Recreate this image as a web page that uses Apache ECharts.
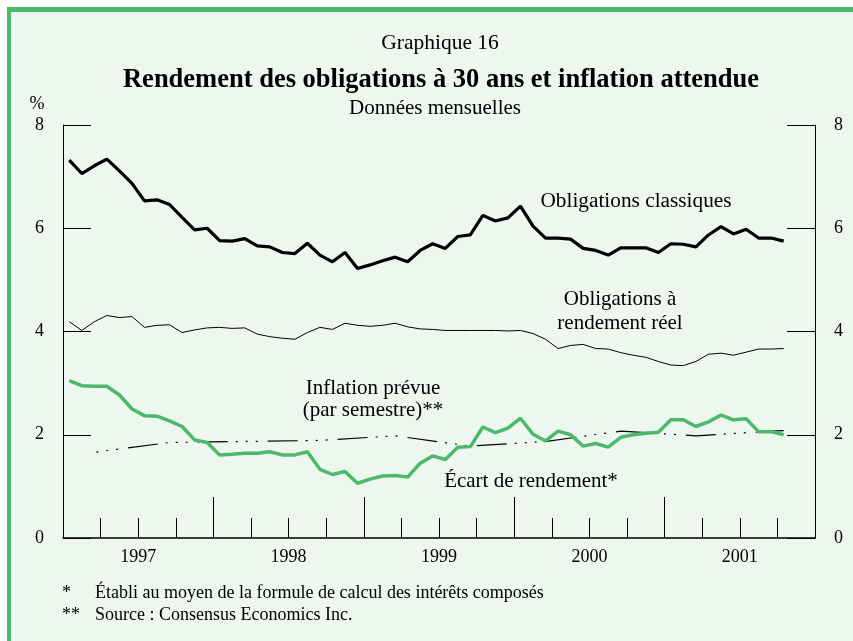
<!DOCTYPE html>
<html>
<head>
<meta charset="utf-8">
<script src="https://cdn.jsdelivr.net/npm/echarts@6/dist/echarts.min.js"></script>
<style>
html,body{margin:0;padding:0;background:#fff;}
#chart{width:853px;height:641px;}
</style>
</head>
<body>
<div id="chart"></div>
<script>
// ---- Data (monthly, Jan 1997 – Oct 2001) ----
const years = ['1997', '1998', '1999', '2000', '2001'];
const months = [];
years.forEach(function (y) { for (let m = 1; m <= 12; m++) months.push(y + '-' + (m < 10 ? '0' + m : m)); });

const obligationsClassiques = [7.32,7.06,7.21,7.34,7.11,6.87,6.53,6.55,6.46,6.21,5.97,6.00,
  5.76,5.75,5.80,5.66,5.64,5.53,5.51,5.71,5.48,5.35,5.53,5.22,
  5.29,5.37,5.44,5.35,5.57,5.70,5.61,5.84,5.87,6.25,6.14,6.20,
  6.43,6.04,5.81,5.81,5.79,5.61,5.57,5.48,5.62,5.62,5.62,5.53,
  5.70,5.69,5.64,5.87,6.03,5.89,5.98,5.81,5.81,5.75];

const rendementReel = [4.19,4.02,4.19,4.31,4.27,4.29,4.08,4.12,4.13,3.98,4.03,4.07,
  4.08,4.06,4.07,3.95,3.90,3.87,3.85,3.98,4.08,4.04,4.16,4.12,
  4.10,4.12,4.16,4.09,4.05,4.04,4.02,4.02,4.02,4.02,4.02,4.01,
  4.02,3.96,3.85,3.67,3.73,3.75,3.67,3.66,3.59,3.54,3.50,3.42,
  3.35,3.34,3.42,3.56,3.58,3.54,3.60,3.66,3.66,3.67];

const ecartRendement = [3.05,2.95,2.94,2.94,2.77,2.50,2.37,2.36,2.27,2.16,1.90,1.85,
  1.61,1.62,1.64,1.64,1.67,1.61,1.61,1.67,1.33,1.23,1.29,1.06,
  1.14,1.20,1.21,1.18,1.45,1.59,1.52,1.76,1.77,2.15,2.04,2.13,
  2.32,2.01,1.88,2.07,2.00,1.78,1.83,1.76,1.95,2.00,2.03,2.05,
  2.29,2.29,2.16,2.25,2.38,2.29,2.31,2.06,2.06,2.00];

// semiannual survey (Consensus Economics), placed on its survey months
const inflationPrevue = [null,null,1.66,null,null,null,null,null,1.85,null,null,null,
  null,null,1.87,null,null,null,null,null,1.89,null,null,null,
  null,null,1.98,null,null,null,null,null,1.78,null,null,null,
  null,null,1.87,null,null,null,null,null,2.07,null,null,null,
  null,null,1.98,null,null,null,null,null,2.07,2.08];

const yTicks = [0, 2, 4, 6, 8];

// ---- Chart ----
const FONT = '"Liberation Serif", "Times New Roman", serif';
const chart = echarts.init(document.getElementById('chart'));

const G = { left: 63, right: 38, top: 125, bottom: 103 };

function txt(x, y, text, size, weight, align) {
  return {
    type: 'text', x: x, y: y, z: 10,
    style: { text: text, fill: '#000', font: (weight || 'normal') + ' ' + size + 'px ' + FONT,
      textAlign: align || 'center', textVerticalAlign: 'middle' }
  };
}

const yAxisBase = {
  type: 'value', min: yTicks[0], max: yTicks[yTicks.length - 1], interval: 2,
  axisLine: { show: true, onZero: false, lineStyle: { color: '#000', width: 1 } },
  axisTick: { show: true, inside: true, length: 28, lineStyle: { color: '#000', width: 1 } },
  axisLabel: { color: '#000', fontSize: 18, fontFamily: FONT, margin: 19 },
  splitLine: { show: false }
};

chart.setOption({
  animation: false,
  backgroundColor: '#ffffff',
  grid: { left: G.left, right: G.right, top: G.top, bottom: G.bottom, containLabel: false },
  graphic: [
    { type: 'rect', z: -100, shape: { x: 7, y: 7, width: 846, height: 634 }, style: { fill: '#edf7ef' } },
    { type: 'rect', z: -99, shape: { x: 7, y: 7, width: 846, height: 5 }, style: { fill: '#4cb96a' } },
    { type: 'rect', z: -99, shape: { x: 7, y: 7, width: 4, height: 634 }, style: { fill: '#4cb96a' } },
    txt(440, 43, 'Graphique 16', 21.5),
    txt(441, 80, 'Rendement des obligations à 30 ans et inflation attendue', 26.5, 'bold'),
    txt(435, 108, 'Données mensuelles', 21),
    txt(37, 104, '%', 18),
    txt(636, 201, 'Obligations classiques', 21.3),
    txt(620, 299, 'Obligations à', 21),
    txt(620, 323, 'rendement réel', 21),
    txt(373, 388, 'Inflation prévue', 21),
    txt(373, 410, '(par semestre)**', 21),
    txt(531, 481, 'Écart de rendement*', 21),
    txt(62, 593, '*', 18, 'normal', 'left'),
    txt(95, 593, 'Établi au moyen de la formule de calcul des intérêts composés', 18, 'normal', 'left'),
    txt(62, 615, '**', 18, 'normal', 'left'),
    txt(95, 615, 'Source : Consensus Economics Inc.', 18, 'normal', 'left')
  ],
  xAxis: [
    {
      type: 'category', data: months, boundaryGap: true, position: 'bottom',
      axisLine: { show: true, onZero: false, lineStyle: { color: '#000', width: 1.5 } },
      axisTick: { show: true, inside: true, length: 20, interval: function (i) { return i % 3 === 0; },
        lineStyle: { color: '#000', width: 1 } },
      axisLabel: { show: false }, splitLine: { show: false }
    },
    {
      type: 'category', data: months, boundaryGap: true, position: 'bottom',
      axisLine: { show: false, onZero: false },
      axisTick: { show: true, inside: true, length: 41, interval: function (i) { return i % 12 === 0; },
        lineStyle: { color: '#000', width: 1 } },
      axisLabel: { show: false }, splitLine: { show: false }
    },
    {
      type: 'value', min: 0, max: months.length, interval: 6, position: 'bottom',
      axisLine: { show: false, onZero: false }, axisTick: { show: false }, splitLine: { show: false },
      axisLabel: {
        color: '#000', fontSize: 18, fontFamily: FONT, margin: 10,
        formatter: function (v) { return (v % 12 === 6) ? years[(v - 6) / 12] : ''; }
      }
    }
  ],
  yAxis: [
    Object.assign({}, yAxisBase, { position: 'left' }),
    Object.assign({}, yAxisBase, { position: 'right' })
  ],
  series: [
    { name: 'Obligations classiques', type: 'line', data: obligationsClassiques, xAxisIndex: 0, yAxisIndex: 0,
      showSymbol: false, symbol: 'none', lineStyle: { color: '#000', width: 3.2 }, z: 5 },
    { name: 'Obligations à rendement réel', type: 'line', data: rendementReel, xAxisIndex: 0, yAxisIndex: 0,
      showSymbol: false, symbol: 'none', lineStyle: { color: '#000', width: 1 }, z: 4 },
    { name: 'Inflation prévue', type: 'line', data: inflationPrevue, xAxisIndex: 0, yAxisIndex: 0,
      connectNulls: true, showSymbol: false, symbol: 'none',
      lineStyle: { color: '#000', width: 1.2, type: [30, 8, 2, 8, 2, 8, 2, 10], dashOffset: 36 }, z: 3 },
    { name: 'Écart de rendement', type: 'line', data: ecartRendement, xAxisIndex: 0, yAxisIndex: 0,
      showSymbol: false, symbol: 'none', lineStyle: { color: '#4cb96a', width: 3.5 }, z: 6 }
  ]
});
</script>
</body>
</html>
